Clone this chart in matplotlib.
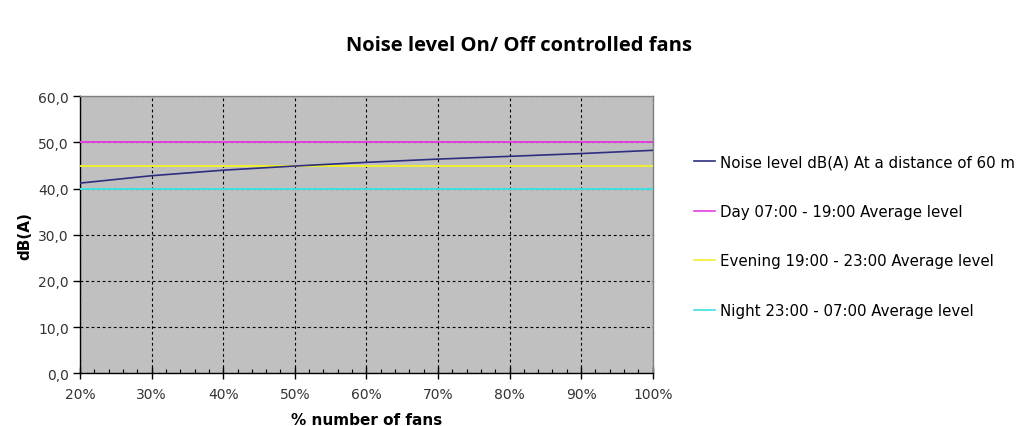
import matplotlib
matplotlib.use("Agg")
import matplotlib.pyplot as plt
from matplotlib.ticker import FuncFormatter, MultipleLocator
from matplotlib.lines import Line2D

# Share of fans running (%)
fan_share = [20, 30, 40, 50, 60, 70, 80, 90, 100]
# Noise level at 60 m, dB(A)
noise_db = [41.2, 42.8, 44.0, 44.9, 45.7, 46.4, 47.0, 47.6, 48.3]

# Limit values, dB(A)
day_limit = 50.0
evening_limit = 45.0
night_limit = 40.0

series_labels = [
    "Noise level dB(A) At a distance of 60 m",
    "Day 07:00 - 19:00 Average level",
    "Evening 19:00 - 23:00 Average level",
    "Night 23:00 - 07:00 Average level",
]
series_colors = ["#2e2e80", "#e040e0", "#f0f030", "#40e0e0"]

plt.rcParams["font.family"] = ["DejaVu Sans"]

fig = plt.figure(figsize=(10.30, 4.27), dpi=100)
ax = fig.add_axes([0.0777, 0.1234, 0.5560, 0.6487])
ax.set_facecolor("#c0c0c0")

ax.plot(fan_share, [day_limit] * len(fan_share), color=series_colors[1], lw=1.4, zorder=3)
ax.plot(fan_share, [evening_limit] * len(fan_share), color=series_colors[2], lw=1.4, zorder=3)
ax.plot(fan_share, [night_limit] * len(fan_share), color=series_colors[3], lw=1.4, zorder=3)
ax.plot(fan_share, noise_db, color=series_colors[0], lw=1.2, zorder=4)

ax.set_xlim(20, 100)
ax.set_ylim(0, 60)
ax.xaxis.set_major_locator(MultipleLocator(10))
ax.xaxis.set_minor_locator(MultipleLocator(2))
ax.yaxis.set_major_locator(MultipleLocator(10))
ax.xaxis.set_major_formatter(FuncFormatter(lambda v, p: f"{v:.0f}%"))
ax.yaxis.set_major_formatter(FuncFormatter(lambda v, p: f"{v:.1f}".replace(".", ",")))

ax.grid(True, which="major", color="black", linestyle=(0, (2.5, 2.5)), lw=0.8, zorder=1)
ax.set_axisbelow(True)

for side in ("top", "right"):
    ax.spines[side].set_color("#808080")
    ax.spines[side].set_linewidth(1.0)
for side in ("left", "bottom"):
    ax.spines[side].set_color("black")
    ax.spines[side].set_linewidth(1.0)

ax.tick_params(axis="x", which="major", direction="inout", length=8, width=1,
               labelsize=10, pad=6, colors="black", labelcolor="#333333")
ax.tick_params(axis="x", which="minor", direction="in", length=3, width=0.8)
ax.tick_params(axis="y", which="major", direction="out", length=5, width=1,
               labelsize=10, pad=3, labelcolor="#333333")

ax.set_xlabel("% number of fans", fontsize=11, fontweight="bold", labelpad=8)
ax.set_ylabel("dB(A)", fontsize=11, fontweight="bold", labelpad=4)

fig.text(0.504, 0.893, "Noise level On/ Off controlled fans", ha="center", va="center",
         fontsize=14.5, fontweight="bold", family="Open Sans")

handles = [Line2D([0], [0], color=c, lw=1.2) for c in series_colors]
fig.legend(handles, series_labels, loc="upper left", bbox_to_anchor=(0.668, 0.650),
           frameon=False, fontsize=10.8, handlelength=1.4, handletextpad=0.3,
           labelspacing=2.3, borderaxespad=0)

fig.savefig("out.png", dpi=100)
